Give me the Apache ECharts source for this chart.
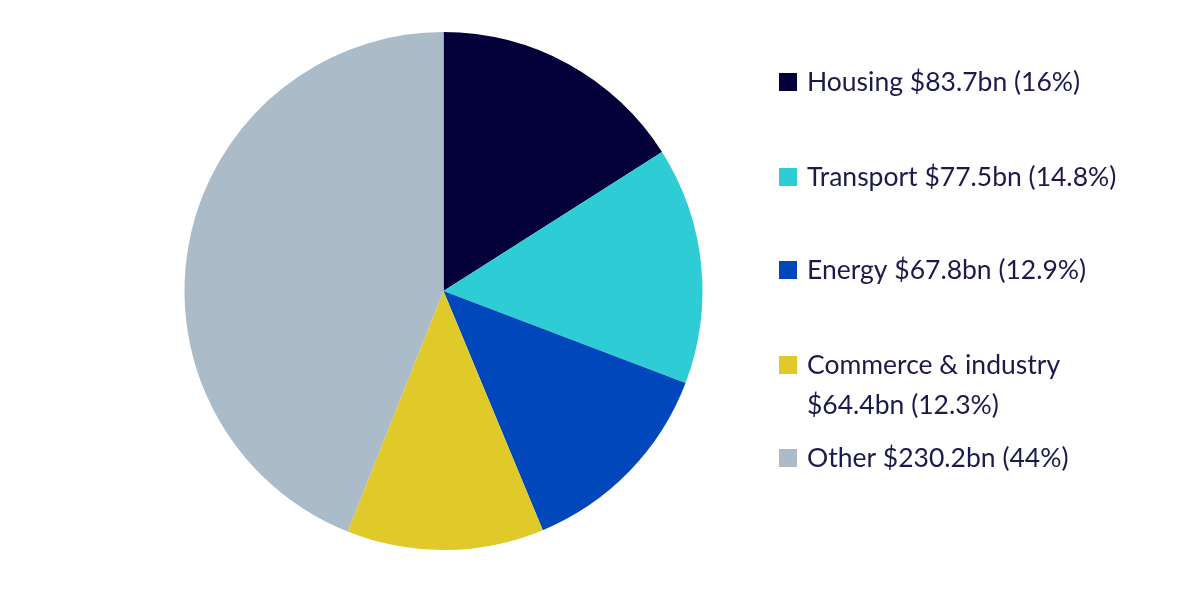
<!DOCTYPE html>
<html>
<head>
<meta charset="utf-8">
<script src="https://cdn.jsdelivr.net/npm/echarts@6/dist/echarts.min.js"></script>
<style>
html, body { margin: 0; padding: 0; background: #fff; }
#chart { width: 1200px; height: 594px; }
</style>
</head>
<body>
<div id="chart"></div>
<script>
var categories = ['Housing', 'Transport', 'Energy', 'Commerce & industry', 'Other'];
var values = [83.7, 77.5, 67.8, 64.4, 230.2];
var shares = ['16%', '14.8%', '12.9%', '12.3%', '44%'];
var colors = ['#03003a', '#2ecdd5', '#0047bb', '#dfca2a', '#acbbc8'];

var textColor = '#1c1a4c';
// top of each legend entry (the two line one starts one blank line higher)
var legendTops = [62, 157, 250, 305, 438];

var chart = echarts.init(document.getElementById('chart'));

var legends = [];
for (var i = 0; i < categories.length; i++) {
	(function (i) {
		legends.push({
			data: [categories[i]],
			left: 779,
			top: legendTops[i],
			padding: 0,
			orient: 'vertical',
			icon: 'rect',
			itemWidth: 18,
			itemHeight: 18,
			selectedMode: false,
			textStyle: {
				color: textColor,
				fontSize: 26.5,
				fontFamily: 'Lato',
				lineHeight: 40,
				padding: [0, 0, 0, 5]
			},
			formatter: function (name) {
				var amount = '$' + values[i] + 'bn (' + shares[i] + ')';
				// two line entry keeps its square on the first line
				if (name === 'Commerce & industry') {
					return '\n' + name + '\n' + amount;
				}
				return name + ' ' + amount;
			}
		});
	})(i);
}

var data = [];
for (var j = 0; j < categories.length; j++) {
	data.push({ name: categories[j], value: values[j], itemStyle: { color: colors[j] } });
}

chart.setOption({
	backgroundColor: '#ffffff',
	animation: false,
	legend: legends,
	series: [{
		type: 'pie',
		center: [443.5, 291],
		radius: 259,
		startAngle: 90,
		clockwise: true,
		label: { show: false },
		labelLine: { show: false },
		itemStyle: { borderWidth: 0 },
		data: data
	}]
});
</script>
</body>
</html>
